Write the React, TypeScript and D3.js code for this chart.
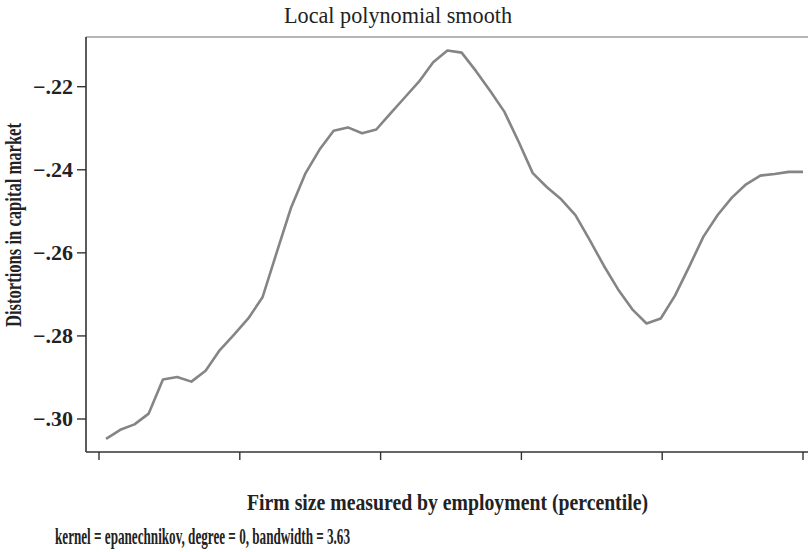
import * as d3 from "d3";

// smoothed values, 50 grid points between percentile 1 and 100
const distortion = [
  -0.3048, -0.3026, -0.3013, -0.2987, -0.2905, -0.2899, -0.291, -0.2884, -0.2834, -0.2797,
  -0.2758, -0.2707, -0.2599, -0.2492, -0.241, -0.2352, -0.2306, -0.2298, -0.2312, -0.2303,
  -0.2264, -0.2226, -0.2188, -0.2141, -0.2113, -0.2118, -0.2162, -0.221, -0.226, -0.2332,
  -0.2408, -0.2442, -0.2471, -0.2509, -0.2569, -0.2631, -0.2688, -0.2736, -0.277, -0.2758,
  -0.2703, -0.2633, -0.2561, -0.2509, -0.2467, -0.2435, -0.2414, -0.241, -0.2405, -0.2405,
];
const gridMin = 1;
const gridMax = 100;
const percentile = distortion.map((_, i) => gridMin + (i * (gridMax - gridMin)) / (distortion.length - 1));

const yTicks = [-0.22, -0.24, -0.26, -0.28, -0.3];
const xTicks = [0, 20, 40, 60, 80, 100];

const title = "Local polynomial smooth";
const xTitle = "Firm size measured by employment (percentile)";
const yTitle = "Distortions in capital market";
const note = "kernel = epanechnikov, degree = 0, bandwidth = 3.63";

export default function App() {
  const width = 808;
  const height = 552;
  const plotLeft = 86;
  const plotTop = 37;
  const plotBottom = 452;

  const xScale = d3.scaleLinear([0, 100], [99, 803]);
  const yScale = d3.scaleLinear([-0.3, -0.22], [419, 86.7]);

  const line = d3
    .line<number>()
    .x((_, i) => xScale(percentile[i]))
    .y((d) => yScale(d));

  const fmt = (v: number) => "\u2212" + Math.abs(v).toFixed(2).slice(1);

  return (
    <svg
      width={width}
      height={height}
      style={{ position: "absolute", left: 0, top: 0, background: "#fff" }}
      fontFamily="'Liberation Serif', 'Times New Roman', serif"
    >
      {/* title */}
      <text x={398} y={22.5} fontSize={23} textAnchor="middle" textLength={228} lengthAdjust="spacingAndGlyphs" fill="#222">
        {title}
      </text>

      {/* frame */}
      <line x1={plotLeft} x2={width} y1={plotTop} y2={plotTop} stroke="#b5b5b5" strokeWidth={2} />
      <line x1={plotLeft} x2={plotLeft} y1={plotTop} y2={plotBottom} stroke="#333" strokeWidth={1.6} />
      <line x1={plotLeft} x2={width} y1={plotBottom} y2={plotBottom} stroke="#333" strokeWidth={1.6} />

      {/* y axis */}
      {yTicks.map((t) => (
        <g key={t}>
          <line x1={plotLeft - 9} x2={plotLeft} y1={yScale(t)} y2={yScale(t)} stroke="#333" strokeWidth={1.4} />
          <text x={73} y={yScale(t) + 7} fontSize={21} fontWeight="bold" textAnchor="end" textLength={40} lengthAdjust="spacingAndGlyphs" fill="#222">
            {fmt(t)}
          </text>
        </g>
      ))}

      {/* x axis */}
      {xTicks.map((t) => (
        <line key={t} x1={xScale(t)} x2={xScale(t)} y1={plotBottom} y2={plotBottom + 8} stroke="#333" strokeWidth={1.4} />
      ))}

      {/* curve */}
      <path d={line(distortion) ?? ""} fill="none" stroke="#858585" strokeWidth={2.6} strokeLinejoin="round" />

      {/* axis titles */}
      <text
        transform="translate(21,225) rotate(-90)"
        fontSize={23}
        fontWeight="bold"
        textAnchor="middle"
        textLength={204}
        lengthAdjust="spacingAndGlyphs"
        fill="#222"
      >
        {yTitle}
      </text>
      <text x={447.5} y={510} fontSize={23} fontWeight="bold" textAnchor="middle" textLength={401} lengthAdjust="spacingAndGlyphs" fill="#222">
        {xTitle}
      </text>
      <text x={55} y={544} fontSize={24} fontWeight="bold" textLength={295} lengthAdjust="spacingAndGlyphs" fill="#222">
        {note}
      </text>
    </svg>
  );
}
